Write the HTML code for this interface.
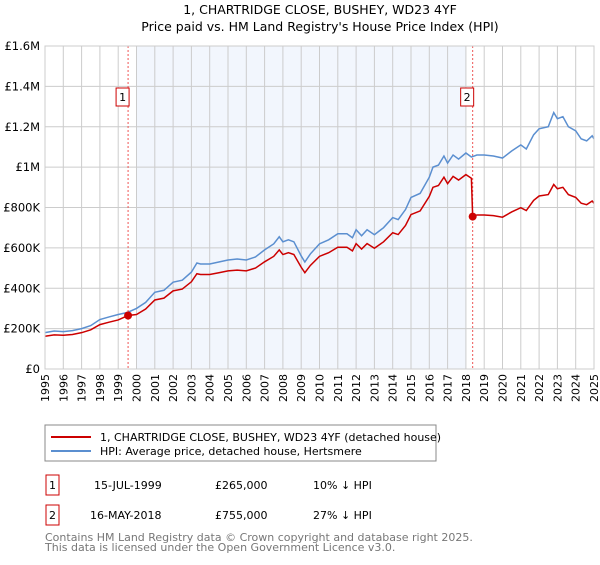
<!DOCTYPE html>
<html><head><meta charset="utf-8"><style>
body{margin:0;background:#fff;font-family:"Liberation Sans","DejaVu Sans",sans-serif}
svg text{font-family:"DejaVu Sans","Liberation Sans",sans-serif}
</style></head><body>
<svg id="c" width="600" height="560">
<text x="320" y="14" font-size="12.5" text-anchor="middle">1, CHARTRIDGE CLOSE, BUSHEY, WD23 4YF</text>
<text x="320" y="31" font-size="12.5" text-anchor="middle">Price paid vs. HM Land Registry's House Price Index (HPI)</text>
<g id="plot"></g>
<rect x="45" y="425" width="391" height="36" fill="#fff" stroke="#888"/>
<line x1="51" y1="437" x2="91" y2="437" stroke="#cc0000" stroke-width="2"/>
<text x="100" y="441" font-size="11">1, CHARTRIDGE CLOSE, BUSHEY, WD23 4YF (detached house)</text>
<line x1="51" y1="451" x2="91" y2="451" stroke="#5b8fd0" stroke-width="2"/>
<text x="100" y="455" font-size="11">HPI: Average price, detached house, Hertsmere</text>
<rect x="46" y="475" width="13" height="20" fill="#fff" stroke="#cc0000"/>
<text x="52.5" y="489" font-size="11" text-anchor="middle">1</text>
<text x="94" y="489" font-size="11">15-JUL-1999</text>
<text x="215" y="489" font-size="11">£265,000</text>
<text x="313" y="489" font-size="11">10% ↓ HPI</text>
<rect x="46" y="505" width="13" height="20" fill="#fff" stroke="#cc0000"/>
<text x="52.5" y="519" font-size="11" text-anchor="middle">2</text>
<text x="90" y="519" font-size="11">16-MAY-2018</text>
<text x="215" y="519" font-size="11">£755,000</text>
<text x="313" y="519" font-size="11">27% ↓ HPI</text>
<text x="45" y="541" font-size="11" fill="#777">Contains HM Land Registry data © Crown copyright and database right 2025.</text>
<text x="45" y="551" font-size="11" fill="#777">This data is licensed under the Open Government Licence v3.0.</text>
</svg>
<script>
const hpiYears=[1995.0,1995.5,1996.0,1996.5,1997.0,1997.5,1998.0,1998.5,1999.0,1999.5,2000.0,2000.5,2001.0,2001.5,2002.0,2002.5,2003.0,2003.3,2003.5,2004.0,2004.5,2005.0,2005.5,2006.0,2006.5,2007.0,2007.5,2007.8,2008.0,2008.3,2008.6,2009.0,2009.2,2009.5,2010.0,2010.5,2011.0,2011.5,2011.8,2012.0,2012.3,2012.6,2013.0,2013.5,2014.0,2014.3,2014.7,2015.0,2015.5,2016.0,2016.2,2016.5,2016.8,2017.0,2017.3,2017.6,2018.0,2018.3,2018.6,2019.0,2019.5,2020.0,2020.5,2021.0,2021.3,2021.7,2022.0,2022.5,2022.8,2023.0,2023.3,2023.6,2024.0,2024.3,2024.6,2024.9,2025.0];
const hpiValues=[180,188,185,190,200,215,245,258,270,280,300,330,380,390,430,440,480,525,520,520,530,540,545,540,555,590,620,655,630,640,630,560,530,570,620,640,670,670,650,690,660,690,665,700,750,740,790,850,870,950,1000,1010,1055,1020,1060,1040,1070,1050,1060,1060,1055,1045,1080,1110,1090,1160,1190,1200,1270,1240,1250,1200,1180,1140,1130,1155,1140];
const redYears=[1995.0,1995.5,1996.0,1996.5,1997.0,1997.5,1998.0,1998.5,1999.0,1999.54,2000.0,2000.5,2001.0,2001.5,2002.0,2002.5,2003.0,2003.3,2003.5,2004.0,2004.5,2005.0,2005.5,2006.0,2006.5,2007.0,2007.5,2007.8,2008.0,2008.3,2008.6,2009.0,2009.2,2009.5,2010.0,2010.5,2011.0,2011.5,2011.8,2012.0,2012.3,2012.6,2013.0,2013.5,2014.0,2014.3,2014.7,2015.0,2015.5,2016.0,2016.2,2016.5,2016.8,2017.0,2017.3,2017.6,2018.0,2018.3,2018.37,2018.6,2019.0,2019.5,2020.0,2020.5,2021.0,2021.3,2021.7,2022.0,2022.5,2022.8,2023.0,2023.3,2023.6,2024.0,2024.3,2024.6,2024.9,2025.0];
const redValues=[162,169,167,171,180,194,220,232,243,265,270,297,342,351,387,396,432,472,468,468,477,486,490,486,500,531,558,590,567,576,567,504,477,513,558,576,603,603,585,621,594,621,598,630,675,666,711,765,783,855,900,909,950,918,954,936,963,945,755,763,763,760,752,778,799,785,835,857,864,914,893,900,864,850,821,814,832,821];
const sales=[{n:"1",year:1999.54,value:265},{n:"2",year:2018.37,value:755}];
const yTicks=[0,200,400,600,800,1000,1200,1400,1600];
const yTickLabels=["£0","£200K","£400K","£600K","£800K","£1M","£1.2M","£1.4M","£1.6M"];
const xTicks=[1995,1996,1997,1998,1999,2000,2001,2002,2003,2004,2005,2006,2007,2008,2009,2010,2011,2012,2013,2014,2015,2016,2017,2018,2019,2020,2021,2022,2023,2024,2025];
const L=45,R=594,T=46,B=369;
const X=y=>L+(y-1995)/30*(R-L);
const Y=v=>B-v/1600*(B-T);
const NS="http://www.w3.org/2000/svg";
const g=document.getElementById('plot');
function mk(t,a,p){const e=document.createElementNS(NS,t);for(const k in a)e.setAttribute(k,a[k]);(p||g).appendChild(e);return e;}
const shade=mk('rect',{x:X(2000),y:T,width:X(2018)-X(2000),height:B-T,fill:'#f2f6fd'});


xTicks.forEach(t=>{const l=mk('line',{x1:X(t),y1:T,x2:X(t),y2:B,stroke:'#ccc'});


const tx=mk('text',{x:0,y:0,'font-size':11,'text-anchor':'end',transform:`translate(${X(t)+4},${B+5}) rotate(-90)`});tx.textContent=t;

});
yTicks.forEach((t,i)=>{const l=mk('line',{x1:L,y1:Y(t),x2:R,y2:Y(t),stroke:'#ccc'});


const tx=mk('text',{x:40,y:Y(t)+4,'font-size':11.5,'text-anchor':'end'});tx.textContent=yTickLabels[i];

});
sales.forEach(s=>{const l=mk('line',{x1:X(s.year),y1:T,x2:X(s.year),y2:B,stroke:'#e55',"stroke-dasharray":"2,2"});

});
const hp=mk('polyline',{points:hpiYears.map((y,i)=>X(y)+','+Y(hpiValues[i])).join(' '),fill:'none',stroke:'#5b8fd0','stroke-width':1.5});


const rp=mk('polyline',{points:redYears.map((y,i)=>X(y)+','+Y(redValues[i])).join(' '),fill:'none',stroke:'#cc0000','stroke-width':1.5});


sales.forEach(s=>{const c=mk('circle',{cx:X(s.year),cy:Y(s.value),r:4,fill:'#cc0000'});


const bx=X(s.year)-12;const r=mk('rect',{x:bx,y:88,width:13,height:18,fill:'#fff',stroke:'#cc0000'});


const t=mk('text',{x:bx+6.5,y:101,'font-size':11,'text-anchor':'middle'});t.textContent=s.n;

});
const ax=mk('rect',{x:L,y:T,width:R-L,height:B-T,fill:'none',stroke:'#ccc'});


</script>
</body></html>
